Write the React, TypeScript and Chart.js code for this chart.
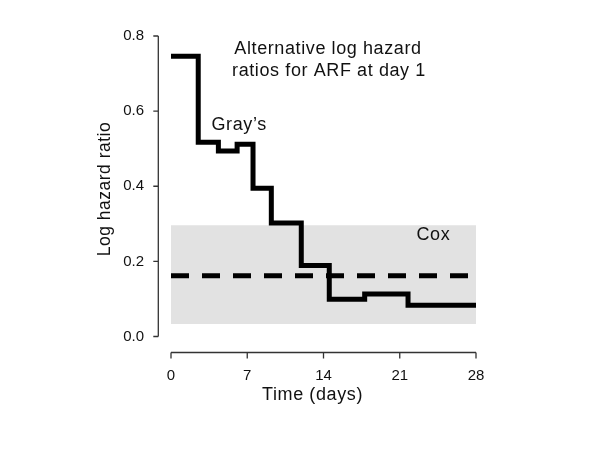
import React, { useEffect, useRef } from "react";
import { Chart, registerables } from "chart.js";

Chart.register(...registerables);

// Gray's time-varying log hazard ratio (step function): change times and new values
const grayTimes = [0, 2.5, 4.35, 6.07, 7.53, 9.21, 11.96, 14.53, 17.78, 21.76, 28];
const grayValues = [0.746, 0.517, 0.494, 0.512, 0.395, 0.302, 0.189, 0.099, 0.113, 0.083, 0.083];

// Cox estimate and its confidence band over the full follow-up
const coxTimes = [0, 28];
const coxEstimate = [0.162, 0.162];
const coxUpper = [0.296, 0.296];
const coxLower = [0.033, 0.033];

const xTicks = [0, 7, 14, 21, 28];
const yTicks = [0, 0.2, 0.4, 0.6, 0.8];

const titleLines = ["Alternative log hazard", "ratios for ARF at day 1"];
const xTitle = "Time (days)";
const yTitle = "Log hazard ratio";
const grayLabel = "Gray\u2019s";
const coxLabel = "Cox";

const FONT = '"Liberation Sans", Arial, Helvetica, sans-serif';

const pts = (xs: number[], ys: number[]) => xs.map((x, i) => ({ x, y: ys[i] }));

const decorPlugin = {
  id: "decor",
  afterDraw(chart: any) {
    const ctx = chart.ctx as CanvasRenderingContext2D;
    const xs = chart.scales.x;
    const ys = chart.scales.y;
    ctx.save();
    // axes (R style, detached)
    ctx.strokeStyle = "#333";
    ctx.lineWidth = 1.3;
    const axX = xs.getPixelForValue(0) - 12.7;
    const axY = ys.getPixelForValue(0) + 16;
    ctx.beginPath();
    ctx.moveTo(axX, ys.getPixelForValue(yTicks[0]));
    ctx.lineTo(axX, ys.getPixelForValue(yTicks[yTicks.length - 1]));
    yTicks.forEach((v) => {
      const p = ys.getPixelForValue(v);
      ctx.moveTo(axX, p);
      ctx.lineTo(axX - 5, p);
    });
    ctx.moveTo(xs.getPixelForValue(xTicks[0]), axY);
    ctx.lineTo(xs.getPixelForValue(xTicks[xTicks.length - 1]), axY);
    xTicks.forEach((v) => {
      const p = xs.getPixelForValue(v);
      ctx.moveTo(p, axY);
      ctx.lineTo(p, axY + 6);
    });
    ctx.stroke();

    ctx.fillStyle = "#111";
    const anyCtx = ctx as any;
    // title
    ctx.font = `18px ${FONT}`;
    anyCtx.letterSpacing = "0.6px";
    ctx.textAlign = "center";
    ctx.textBaseline = "alphabetic";
    ctx.fillText(titleLines[0], 328, 53.5);
    ctx.fillText(titleLines[1], 329, 75.5);
    // annotations
    ctx.textAlign = "left";
    ctx.fillText(grayLabel, 211.5, 129.5);
    ctx.fillText(coxLabel, 416.5, 240);
    // x title
    ctx.textAlign = "center";
    ctx.fillText(xTitle, 312.5, 400);
    // y title
    ctx.font = `17.5px ${FONT}`;
    anyCtx.letterSpacing = "0.5px";
    ctx.translate(109.5, 189);
    ctx.rotate(-Math.PI / 2);
    ctx.fillText(yTitle, 0, 0);
    ctx.restore();
  },
};

export default function App() {
  const ref = useRef<HTMLCanvasElement | null>(null);
  useEffect(() => {
    if (!ref.current) return;
    const chart = new Chart(ref.current, {
      type: "line",
      data: {
        datasets: [
          {
            data: pts(coxTimes, coxUpper),
            borderWidth: 0,
            borderColor: "rgba(0,0,0,0)",
            backgroundColor: "#e2e2e2",
            pointRadius: 0,
            fill: "+1",
            order: 3,
          },
          {
            data: pts(coxTimes, coxLower),
            borderWidth: 0,
            borderColor: "rgba(0,0,0,0)",
            pointRadius: 0,
            fill: false,
            order: 3,
          },
          {
            data: pts(coxTimes, coxEstimate),
            borderWidth: 5,
            borderColor: "#000",
            borderDash: [18, 13],
            pointRadius: 0,
            fill: false,
            clip: false,
            order: 2,
          },
          {
            data: pts(grayTimes, grayValues),
            borderWidth: 5,
            borderColor: "#000",
            stepped: "before",
            pointRadius: 0,
            fill: false,
            clip: false,
            borderJoinStyle: "miter",
            order: 1,
          },
        ] as any,
      },
      options: {
        responsive: false,
        animation: false,
        events: [],
        layout: { padding: { left: 0, right: 124, top: 32, bottom: 0 } },
        plugins: { legend: { display: false }, tooltip: { enabled: false } },
        scales: {
          x: {
            type: "linear",
            min: 0,
            max: 28,
            afterFit: (s: any) => {
              s.height = 113.5;
            },
            afterBuildTicks: (s: any) => {
              s.ticks = xTicks.map((v) => ({ value: v }));
            },
            grid: { display: false, drawTicks: false },
            border: { display: false },
            ticks: {
              padding: 30,
              color: "#111",
              font: { family: FONT, size: 15 },
              maxRotation: 0,
              callback: (v: any) => String(v),
            },
          },
          y: {
            type: "linear",
            min: 0,
            max: 0.8,
            afterFit: (s: any) => {
              s.width = 171;
            },
            afterBuildTicks: (s: any) => {
              s.ticks = yTicks.map((v) => ({ value: v }));
            },
            grid: { display: false, drawTicks: false },
            border: { display: false },
            ticks: {
              padding: 27,
              color: "#111",
              font: { family: FONT, size: 15 },
              callback: (v: any) => Number(v).toFixed(1),
            },
          },
        },
      } as any,
      plugins: [decorPlugin],
    });
    return () => chart.destroy();
  }, []);
  return (
    <div style={{ position: "absolute", left: 0, top: 0, width: 600, height: 450, background: "#fff" }}>
      <canvas ref={ref} width={600} height={450} />
    </div>
  );
}
